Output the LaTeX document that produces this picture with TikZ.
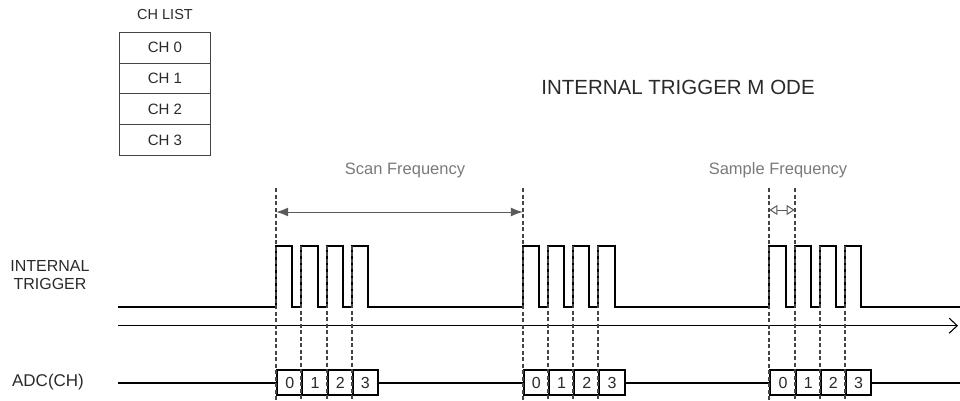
\documentclass[tikz,border=0pt]{standalone}
\usepackage{fontspec}
\setmainfont{Liberation Sans}
\usetikzlibrary{arrows.meta}
\definecolor{dgray}{HTML}{444444}
\definecolor{agray}{HTML}{5A5A5A}
\definecolor{tgray}{HTML}{7A7A7A}
\definecolor{txt}{HTML}{2A2A2A}
\begin{document}
\begin{tikzpicture}[x=1pt,y=-1pt,
  sig/.style={line width=2pt, black, line join=miter},
  guide/.style={dash pattern=on 4pt off 2.5pt, line width=2pt, dgray},
  lbl/.style={font=\fontsize{16}{18}\selectfont, text=txt, inner sep=0pt},
  glbl/.style={font=\fontsize{16.5}{18}\selectfont, text=tgray, inner sep=0pt},
  chrow/.style={draw=dgray, line width=0.8pt, minimum width=91pt, minimum height=30.75pt,
    inner sep=0pt, anchor=north west, font=\fontsize{15}{17}\selectfont, text=txt},
  adcbox/.style={draw=black, line width=2pt, minimum width=25.2pt, minimum height=25pt,
    inner sep=0pt, fill=white, font=\fontsize{16}{17}\selectfont, text=txt, anchor=west},
  timeaxis/.style={line width=1.1pt, black, -{Straight Barb[length=8pt,width=15pt]}},
  scanarr/.style={line width=1pt, agray, {Latex[length=12pt,width=9pt]}-{Latex[length=12pt,width=9pt]}},
  samparr/.style={line width=1pt, agray, {Triangle[open,length=8pt,width=10pt]}-{Triangle[open,length=8pt,width=10pt]}},
]
\useasboundingbox (0,0) rectangle (960,401);

% channel list
\node[font=\fontsize{14.5}{17}\selectfont, text=txt, inner sep=0pt] (chlist) at (165,15) {CH LIST};
\foreach \i in {0,1,2,3}{
  \node[chrow] (ch\i) at (119,{32+30.75*\i}) {CH \i};
}

% title
\node[font=\fontsize{20.5}{22}\selectfont, text=txt, inner sep=0pt] (mode) at (678,87) {INTERNAL TRIGGER M ODE};

% signal labels
\node[lbl, align=center] (trig) at (50,275) {INTERNAL\\TRIGGER};
\node[lbl, font=\fontsize{17}{18}\selectfont] (adc) at (48,382) {ADC(CH)};

% frequency labels
\node[glbl] (scan) at (405,170) {Scan Frequency};
\node[glbl] (samp) at (778,170) {Sample Frequency};

% time axis
\coordinate (axs) at (118,325.7);
\coordinate (axe) at (958,325.7);
\draw[timeaxis] (axs) -- (axe);

% internal trigger signal
\draw[sig] (118,306.7)
  \foreach \gx in {276.2,522.8,769.4}{
    \foreach \k in {0,1,2,3}{
      -- ({\gx+25.2*\k},306.7) -- ({\gx+25.2*\k},245.7)
      -- ({\gx+25.2*\k+16.2},245.7) -- ({\gx+25.2*\k+16.2},306.7)
    }
  } -- (960,306.7);

% ADC line and boxes
\draw[sig] (118,383) -- (276.2,383);
\draw[sig] (376.8,383) -- (522.8,383);
\draw[sig] (623.4,383) -- (769.4,383);
\draw[sig] (870,383) -- (960,383);
\foreach \g/\gx in {1/276.2,2/522.8,3/769.4}{
  \foreach \k in {0,1,2,3}{
    \node[adcbox] (b\g\k) at ({\gx+25.2*\k},382.5) {\k};
  }
}

% dashed guide lines
\foreach \gx in {276.2,522.8,769.4}{
  \draw[guide] (\gx,188) -- (\gx,401);
  \foreach \k in {1,2,3}{
    \draw[guide] ({\gx+25.2*\k},245.7) -- ({\gx+25.2*\k},401);
  }
}
\draw[guide] (794.6,188) -- (794.6,245.7);

% frequency arrows
\coordinate (sc1) at (276.2,212);
\coordinate (sc2) at (522.8,212);
\draw[scanarr] (sc1) -- (sc2);
\coordinate (sa1) at (769.4,210);
\coordinate (sa2) at (794.6,210);
\draw[samparr] (sa1) -- (sa2);
\end{tikzpicture}
\end{document}
